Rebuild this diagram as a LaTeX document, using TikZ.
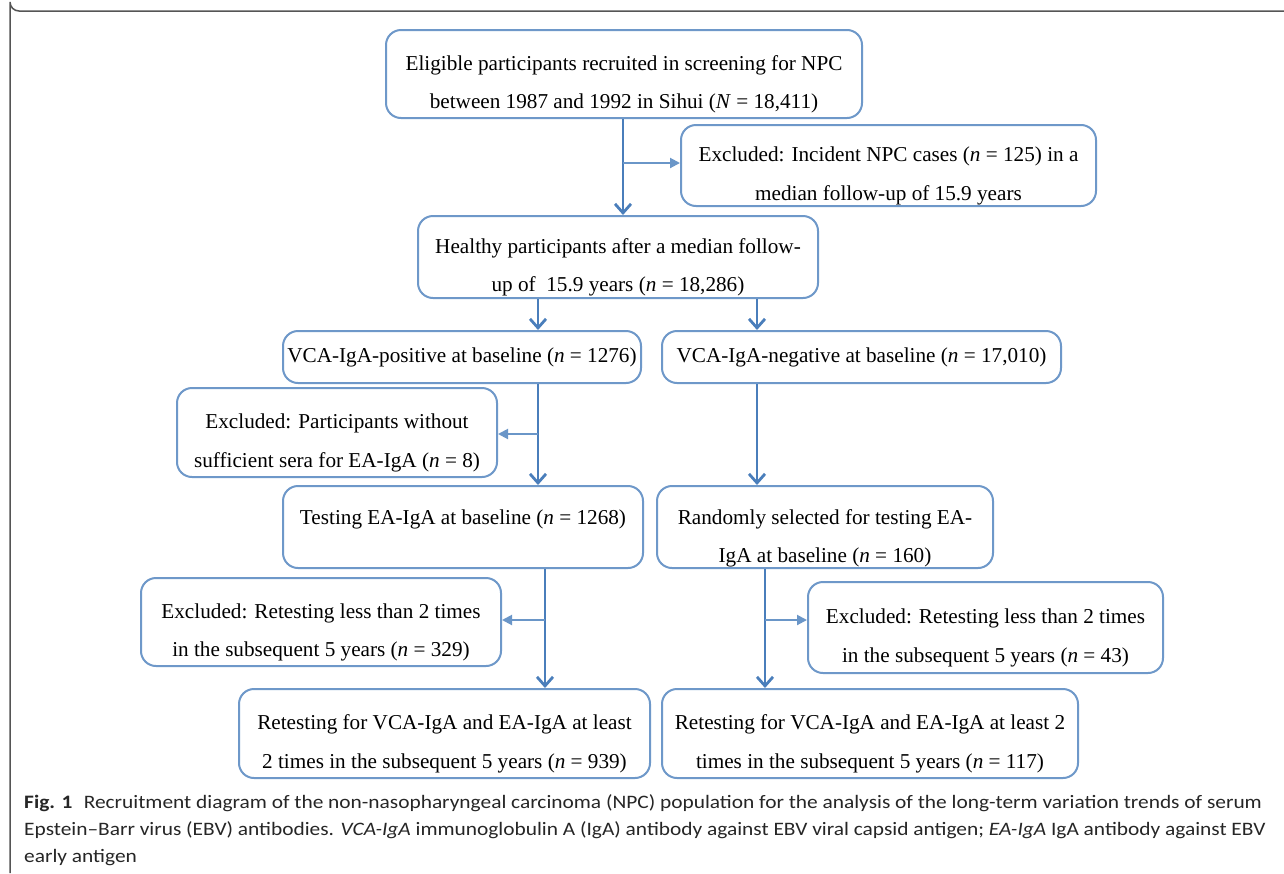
\documentclass[tikz,border=0pt]{standalone}
\usepackage{fontspec}
\setmainfont{Liberation Serif}
\newfontfamily\capfont[FakeStretch=1.125]{Carlito}
\usetikzlibrary{arrows.meta}
\definecolor{boxblue}{HTML}{6E98C9}
\definecolor{mainblue}{HTML}{4A7EBB}
\definecolor{sideblue}{HTML}{6A96C8}
\definecolor{framegray}{HTML}{555555}
\tikzset{
  flowbox/.style={draw=boxblue, line width=2pt, rounded corners=15pt, align=center,
    inner sep=0pt, font=\fontsize{21.2}{38.5}\selectfont},
  mainarrow/.style={draw=mainblue, line width=2.8pt, -{Straight Barb[length=9pt,width=16pt,line width=2.8pt]}},
  sidearrow/.style={draw=sideblue, line width=2pt, -{Triangle[length=10pt,width=10pt]}},
  capline/.style={anchor=base west, inner sep=0pt, font=\capfont\fontsize{19}{27}\selectfont, text=black!85}
}
\newcommand{\lowrule}{\rule[-19pt]{0pt}{19pt}}
\newcommand{\mybox}[7][\rule{0pt}{36pt}]{\node[flowbox, minimum width=#4pt, minimum height=#5pt] (#6) at (#2,#3) {#1#7};}
\begin{document}
\begin{tikzpicture}[x=1pt,y=-1pt]
\useasboundingbox (0,0) rectangle (1284,873);
\fill[white] (0,0) rectangle (1284,873);
% frame
\draw[framegray, line width=1.5pt] (1284,11) -- (19,11) arc[start angle=90, end angle=180, radius=9] -- (10,873);
% boxes
\mybox{624}{74}{476}{88}{top}{Eligible participants recruited in screening for NPC\\between 1987 and 1992 in Sihui (\textit{N} = 18,411)}
\mybox{888.5}{165.5}{415}{81}{excA}{Excluded: Incident NPC cases (\textit{n} = 125) in a\\median follow-up of 15.9 years}
\mybox{618}{257}{400}{82}{healthy}{Healthy participants after a median follow-\\up of~ 15.9 years (\textit{n} = 18,286)}
\mybox[]{462}{357}{358}{52}{vpos}{VCA-IgA-positive at baseline (\textit{n} = 1276)}
\mybox[]{861.5}{357}{399}{52}{vneg}{VCA-IgA-negative at baseline (\textit{n} = 17,010)}
\mybox{337}{432.5}{320}{89}{excB}{Excluded: Participants without\\sufficient sera for EA-IgA (\textit{n} = 8)}
\mybox[\lowrule]{463}{527}{360}{82}{test}{Testing EA-IgA at baseline (\textit{n} = 1268)}
\mybox[\rule{0pt}{38pt}]{825}{527}{336}{82}{rand}{Randomly selected for testing EA-\\IgA at baseline (\textit{n} = 160)}
\mybox{321}{622}{360}{88}{excC}{Excluded: Retesting less than 2 times\\in the subsequent 5 years (\textit{n} = 329)}
\mybox{985.5}{627.5}{355}{91}{excD}{Excluded: Retesting less than 2 times\\in the subsequent 5 years (\textit{n} = 43)}
\mybox{444.5}{733.5}{411}{89}{retA}{Retesting for VCA-IgA and EA-IgA at least\\2 times in the subsequent 5 years (\textit{n} = 939)}
\mybox{870}{733.5}{416}{89}{retB}{Retesting for VCA-IgA and EA-IgA at least 2\\times in the subsequent 5 years (\textit{n} = 117)}
% arrow columns
\coordinate (x1) at (623,0);
\coordinate (x2) at (538,0);
\coordinate (x3) at (757,0);
\coordinate (x4) at (545,0);
\coordinate (x5) at (765,0);
\coordinate (b1) at (623,163);
\coordinate (b2) at (538,434);
\coordinate (b3) at (545,620);
\coordinate (b4) at (765,620);
% main arrows
\draw[mainarrow] (top.south -| x1) -- (healthy.north -| x1);
\draw[mainarrow] (healthy.south -| x2) -- (vpos.north -| x2);
\draw[mainarrow] (healthy.south -| x3) -- (vneg.north -| x3);
\draw[mainarrow] (vpos.south -| x2) -- (test.north -| x2);
\draw[mainarrow] (vneg.south -| x3) -- (rand.north -| x3);
\draw[mainarrow] (test.south -| x4) -- (retA.north -| x4);
\draw[mainarrow] (rand.south -| x5) -- (retB.north -| x5);
% side arrows
\draw[sidearrow] (b1) -- (b1 -| excA.west);
\draw[sidearrow] (b2) -- (b2 -| excB.east);
\draw[sidearrow] (b3) -- (b3 -| excC.east);
\draw[sidearrow] (b4) -- (b4 -| excD.west);
% caption
\node[capline] (cap1) at (24,808) {\textbf{Fig. 1}\hspace{0.6em}Recruitment diagram of the non-nasopharyngeal carcinoma (NPC) population for the analysis of the long-term variation trends of serum};
\node[capline] (cap2) at (24,835) {Epstein–Barr virus (EBV) antibodies. \textit{VCA-IgA} immunoglobulin A (IgA) antibody against EBV viral capsid antigen; \textit{EA-IgA} IgA antibody against EBV};
\node[capline] (cap3) at (24,862) {early antigen};
\end{tikzpicture}
\end{document}
